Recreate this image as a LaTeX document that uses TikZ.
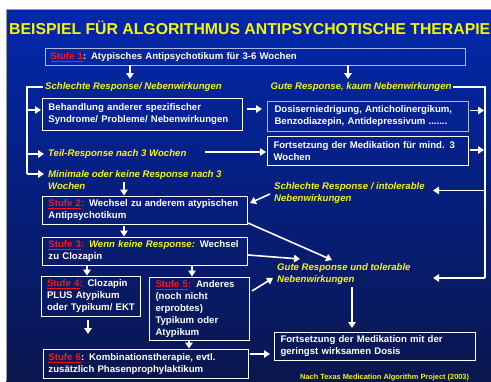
\documentclass[tikz,border=0pt]{standalone}
\usepackage{fontspec}
\setmainfont{Liberation Sans}
\usetikzlibrary{arrows.meta}
\definecolor{bgtop}{RGB}{2,40,172}
\definecolor{bgbot}{RGB}{10,22,78}
\definecolor{ylw}{RGB}{245,245,10}
\definecolor{stred}{RGB}{255,20,20}
\definecolor{lav}{RGB}{175,182,225}
\newcommand\stufe[1]{\textcolor{stred}{\underline{Stufe #1}}}
\newcommand\rc{\textcolor{stred}{:}}
\tikzset{
  box/.style={draw=white, line width=1pt, anchor=north west, inner sep=0pt, align=left,
    text=white, font=\fontsize{9.6}{12}\selectfont\bfseries},
  lbl/.style={anchor=west, inner sep=0pt, align=left, text=ylw,
    font=\fontsize{9.6}{12}\selectfont\bfseries\itshape},
  arr/.style={draw=white, line width=1.6pt, -{Triangle[length=6pt,width=7.5pt]}},
  bus/.style={draw=white, line width=1.6pt}
}
\begin{document}
\begin{tikzpicture}[x=1pt,y=-1pt]
\useasboundingbox (0,0) rectangle (491,381);
\fill[white] (0,0) rectangle (491,381);
\fill[top color=bgtop, bottom color=bgbot] (6,9) rectangle (491,381);
\draw[gray!80, line width=1.3pt] (6.6,381) -- (6.6,9.6) -- (491,9.6);

\node[anchor=base west, inner sep=0pt, text=ylw, font=\fontsize{15.8}{18}\selectfont\bfseries] (title) at (9,34) {BEISPIEL FÜR ALGORITHMUS ANTIPSYCHOTISCHE THERAPIE};

% boxes
\node[box, draw=lav, minimum width=420pt, minimum height=17pt, text width=410pt] (s1) at (45,48) {\stufe{1}: Atypisches Antipsychotikum für 3-6 Wochen};
\node[box, minimum width=200pt, minimum height=32pt, text width=188pt] (beh) at (42,98) {Behandlung anderer spezifischer\\Syndrome/ Probleme/ Nebenwirkungen};
\node[box, draw=lav, minimum width=201pt, minimum height=30pt, text width=187pt] (dos) at (267,101) {Dosiserniedrigung, Anticholinergikum,\\Benzodiazepin, Antidepressivum .......};
\node[box, minimum width=201pt, minimum height=29pt, text width=189pt] (fort) at (267,136) {Fortsetzung der Medikation für mind. 3\\Wochen};
\node[box, minimum width=205pt, minimum height=28pt, text width=193pt] (s2) at (42,196) {\stufe{2}\rc{} Wechsel zu anderem atypischen\\Antipsychotikum};
\node[box, minimum width=205pt, minimum height=28pt, text width=193pt] (s3) at (42,237) {\stufe{3}\rc{} \textcolor{ylw}{\itshape Wenn keine Response:} Wechsel\\zu Clozapin};
\node[box, minimum width=99pt, minimum height=40pt, text width=88pt] (s4) at (41,276) {\stufe{4}\rc{} Clozapin\\PLUS Atypikum\\oder Typikum/ EKT};
\node[box, minimum width=100pt, minimum height=63pt, text width=88pt] (s5) at (149,277) {\stufe{5}\rc{} Anderes\\(noch nicht\\erprobtes)\\Typikum oder\\Atypikum};
\node[box, minimum width=205pt, minimum height=29pt, text width=195pt] (s6) at (43,349) {\stufe{6}: Kombinationstherapie, evtl.\\zusätzlich Phasenprophylaktikum};
\node[box, minimum width=201pt, minimum height=28pt, text width=189pt] (fin) at (274,332) {Fortsetzung der Medikation mit der\\geringst wirksamen Dosis};

% labels
\node[lbl] (l1) at (45,87) {Schlechte Response/ Nebenwirkungen};
\node[lbl] (l2) at (270.5,87) {Gute Response, kaum Nebenwirkungen};
\node[lbl] (l3) at (48,154) {Teil-Response nach 3 Wochen};
\node[lbl] (l4) at (48,180) {Minimale oder keine Response nach 3\\Wochen};
\node[lbl] (l5) at (274,193) {Schlechte Response / intolerable\\Nebenwirkungen};
\node[lbl] (l6) at (277,274.5) {Gute Response und tolerable\\Nebenwirkungen};
\node[anchor=base west, inner sep=0pt, text=ylw, font=\fontsize{7.4}{9}\selectfont\bfseries] (foot) at (300,379.5) {Nach Texas Medication Algorithm Project (2003)};

% bus coordinates
\coordinate (lt) at (27,87);
\coordinate (lb) at (27,174);
\coordinate (rt) at (485,87);
\coordinate (rb) at (485,278);

% left bus
\draw[bus] ([xshift=-2pt]l1.west) -- (lt) -- (lb);
\draw[arr] (27,110) -- (41,110);
\draw[arr] (27,154) -- (44,154);
\draw[arr] (lb) -- (44,174);

% right bus
\draw[bus] ([xshift=1pt]l2.east) -- (rt) -- (rb);
\draw[arr] (rb) -- (433,278);
\draw[arr] (485,190.5) -- (433,190.5);
\draw[arr] (470,110.5) -- (484,110.5);
\draw[arr] (470,150) -- (484,150);

% downward from Stufe 1
\draw[arr] (130,65) -- (130,79);
\draw[arr] (348,65) -- (348,79);

% horizontal
\draw[arr] (247,109) -- (262,109);
\draw[arr] (205,152) -- (266,152);
\draw[arr] (250,354) -- (270,354);

% to Stufe 2 / 3
\draw[arr] (124,182) -- (124,195.5);
\draw[arr] (270,194) -- (250,203);
\draw[arr] (124,225.5) -- (124,236.5);

% to Gute Response
\draw[arr] (248,223) -- (332,260);
\draw[arr] (248,255) -- (300,259);
\draw[arr] (252,291) -- (273,278);

% below Stufe 3
\draw[arr] (87,265) -- (87,275.5);
\draw[arr] (192,265) -- (192,276.5);

% below Stufe 4 / 5
\draw[arr] (88,320) -- (88,334);
\draw[arr] (189,340) -- (189,348.5);

% Gute -> Fortsetzung
\draw[arr] (352,287) -- (352,328);
\end{tikzpicture}
\end{document}
